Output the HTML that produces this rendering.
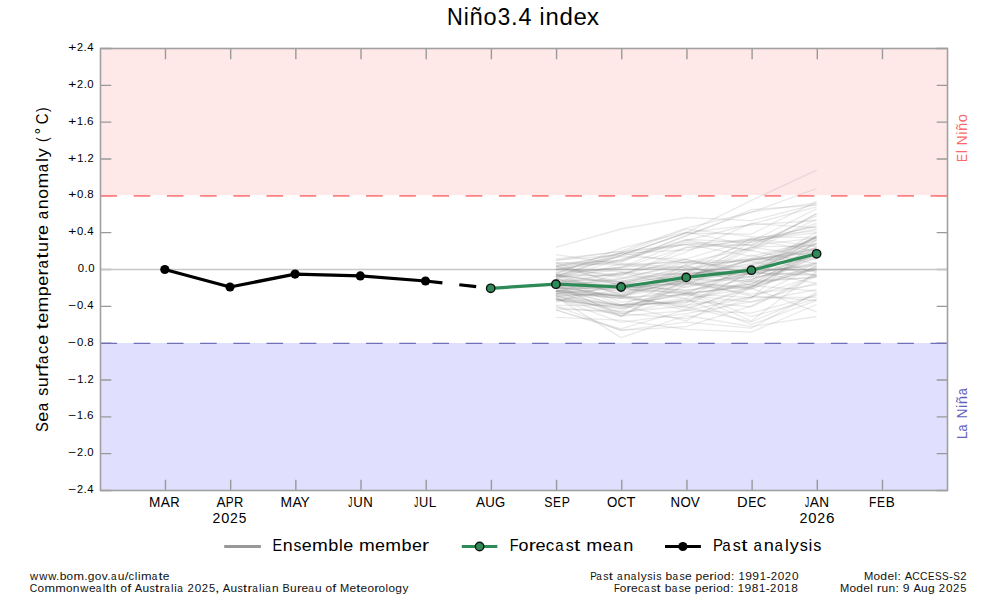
<!DOCTYPE html><html><head><meta charset="utf-8"><style>html,body{margin:0;padding:0;background:#fff;}svg{display:block;}text{font-family:"Liberation Sans",sans-serif;}</style></head><body>
<svg width="997" height="598" viewBox="0 0 997 598">
<rect x="0" y="0" width="997" height="598" fill="#ffffff"/>
<rect x="100.5" y="48.5" width="847.0" height="146.5" fill="#ffe8e8"/>
<rect x="100.5" y="343.0" width="847.0" height="147.5" fill="#e0e0fe"/>
<path d="M165.49 48.5V59.3M165.49 490.5V479.7M230.67 48.5V59.3M230.67 490.5V479.7M295.85 48.5V59.3M295.85 490.5V479.7M361.03 48.5V59.3M361.03 490.5V479.7M426.21 48.5V59.3M426.21 490.5V479.7M491.39 48.5V59.3M491.39 490.5V479.7M556.57 48.5V59.3M556.57 490.5V479.7M621.75 48.5V59.3M621.75 490.5V479.7M686.93 48.5V59.3M686.93 490.5V479.7M752.11 48.5V59.3M752.11 490.5V479.7M817.29 48.5V59.3M817.29 490.5V479.7M882.47 48.5V59.3M882.47 490.5V479.7M100.5 48.50H111.3M947.5 48.50H936.7M100.5 85.33H111.3M947.5 85.33H936.7M100.5 122.17H111.3M947.5 122.17H936.7M100.5 159.00H111.3M947.5 159.00H936.7M100.5 195.83H111.3M947.5 195.83H936.7M100.5 232.67H111.3M947.5 232.67H936.7M100.5 269.50H111.3M947.5 269.50H936.7M100.5 306.33H111.3M947.5 306.33H936.7M100.5 343.17H111.3M947.5 343.17H936.7M100.5 380.00H111.3M947.5 380.00H936.7M100.5 416.83H111.3M947.5 416.83H936.7M100.5 453.67H111.3M947.5 453.67H936.7M100.5 490.50H111.3M947.5 490.50H936.7" stroke="#999999" stroke-width="1.4" fill="none"/>
<line x1="100.5" y1="195.8" x2="947.5" y2="195.8" stroke="#ff8080" stroke-width="1.8" stroke-dasharray="16.6 16.6"/>
<line x1="100.5" y1="343.4" x2="947.5" y2="343.4" stroke="#7070b8" stroke-width="1.4" stroke-dasharray="16.6 16.6"/>
<line x1="100.5" y1="269.5" x2="947.5" y2="269.5" stroke="#c8c8c8" stroke-width="1.3"/>
<g fill="none" stroke="#808080" stroke-opacity="0.17" stroke-width="1.3" stroke-linejoin="round">
<polyline points="555.9,260.2 621.1,255.0 686.2,233.2 751.4,234.2 816.6,201.4"/>
<polyline points="555.9,288.1 621.1,289.1 686.2,292.6 751.4,272.3 816.6,264.6"/>
<polyline points="555.9,290.8 621.1,284.7 686.2,284.1 751.4,276.6 816.6,254.8"/>
<polyline points="555.9,310.0 621.1,330.3 686.2,326.6 751.4,305.9 816.6,274.2"/>
<polyline points="555.9,284.3 621.1,272.6 686.2,287.5 751.4,272.3 816.6,235.5"/>
<polyline points="555.9,288.6 621.1,287.5 686.2,298.9 751.4,288.0 816.6,251.6"/>
<polyline points="555.9,291.5 621.1,285.5 686.2,280.8 751.4,271.7 816.6,265.8"/>
<polyline points="555.9,279.9 621.1,280.9 686.2,272.7 751.4,238.4 816.6,246.2"/>
<polyline points="555.9,278.4 621.1,302.2 686.2,293.3 751.4,285.9 816.6,269.1"/>
<polyline points="555.9,298.8 621.1,315.7 686.2,278.7 751.4,247.2 816.6,256.9"/>
<polyline points="555.9,296.3 621.1,292.6 686.2,283.0 751.4,287.4 816.6,249.9"/>
<polyline points="555.9,290.7 621.1,295.7 686.2,278.7 751.4,260.0 816.6,249.5"/>
<polyline points="555.9,274.7 621.1,275.8 686.2,247.6 751.4,240.4 816.6,232.7"/>
<polyline points="555.9,276.5 621.1,253.2 686.2,229.1 751.4,236.7 816.6,237.6"/>
<polyline points="555.9,302.1 621.1,281.4 686.2,292.9 751.4,321.0 816.6,271.6"/>
<polyline points="555.9,299.5 621.1,308.4 686.2,297.8 751.4,264.6 816.6,243.2"/>
<polyline points="555.9,274.1 621.1,248.1 686.2,232.2 751.4,245.6 816.6,237.8"/>
<polyline points="555.9,262.6 621.1,286.2 686.2,293.8 751.4,297.7 816.6,265.8"/>
<polyline points="555.9,284.6 621.1,316.0 686.2,310.6 751.4,297.0 816.6,275.5"/>
<polyline points="555.9,293.5 621.1,288.2 686.2,294.3 751.4,283.6 816.6,254.4"/>
<polyline points="555.9,269.2 621.1,271.4 686.2,282.4 751.4,269.7 816.6,232.1"/>
<polyline points="555.9,288.4 621.1,285.4 686.2,290.1 751.4,284.2 816.6,267.6"/>
<polyline points="555.9,274.2 621.1,267.5 686.2,259.6 751.4,275.0 816.6,248.4"/>
<polyline points="555.9,263.0 621.1,260.8 686.2,240.5 751.4,224.0 816.6,206.8"/>
<polyline points="555.9,275.6 621.1,267.0 686.2,241.8 751.4,250.6 816.6,219.0"/>
<polyline points="555.9,283.2 621.1,284.2 686.2,274.5 751.4,263.5 816.6,237.7"/>
<polyline points="555.9,274.2 621.1,295.2 686.2,308.2 751.4,288.6 816.6,266.8"/>
<polyline points="555.9,293.0 621.1,296.3 686.2,284.5 751.4,258.7 816.6,252.1"/>
<polyline points="555.9,286.6 621.1,288.3 686.2,282.1 751.4,276.6 816.6,253.0"/>
<polyline points="555.9,292.0 621.1,273.1 686.2,261.6 751.4,259.7 816.6,258.9"/>
<polyline points="555.9,287.0 621.1,306.6 686.2,293.2 751.4,286.8 816.6,256.1"/>
<polyline points="555.9,290.8 621.1,296.2 686.2,306.8 751.4,322.0 816.6,294.1"/>
<polyline points="555.9,286.7 621.1,296.7 686.2,278.8 751.4,281.3 816.6,253.2"/>
<polyline points="555.9,289.4 621.1,296.3 686.2,310.4 751.4,313.1 816.6,295.3"/>
<polyline points="555.9,283.0 621.1,263.5 686.2,267.7 751.4,277.2 816.6,269.8"/>
<polyline points="555.9,283.3 621.1,281.3 686.2,268.4 751.4,258.9 816.6,256.3"/>
<polyline points="555.9,280.1 621.1,288.6 686.2,273.4 751.4,270.2 816.6,235.7"/>
<polyline points="555.9,265.0 621.1,260.2 686.2,236.1 751.4,209.7 816.6,205.2"/>
<polyline points="555.9,305.4 621.1,305.2 686.2,320.9 751.4,286.7 816.6,269.2"/>
<polyline points="555.9,266.4 621.1,277.7 686.2,265.2 751.4,285.5 816.6,291.2"/>
<polyline points="555.9,287.4 621.1,295.5 686.2,274.3 751.4,264.8 816.6,248.4"/>
<polyline points="555.9,301.1 621.1,289.0 686.2,282.4 751.4,288.1 816.6,311.9"/>
<polyline points="555.9,286.5 621.1,279.1 686.2,262.5 751.4,248.1 816.6,213.6"/>
<polyline points="555.9,282.9 621.1,286.6 686.2,290.5 751.4,278.8 816.6,262.8"/>
<polyline points="555.9,269.6 621.1,274.8 686.2,259.0 751.4,239.6 816.6,226.4"/>
<polyline points="555.9,298.7 621.1,308.9 686.2,286.4 751.4,272.9 816.6,275.5"/>
<polyline points="555.9,281.2 621.1,304.7 686.2,302.8 751.4,281.0 816.6,277.3"/>
<polyline points="555.9,282.6 621.1,272.7 686.2,274.4 751.4,270.9 816.6,243.7"/>
<polyline points="555.9,307.3 621.1,313.5 686.2,299.2 751.4,324.7 816.6,300.3"/>
<polyline points="555.9,300.4 621.1,307.2 686.2,300.5 751.4,306.8 816.6,276.0"/>
<polyline points="555.9,276.0 621.1,294.4 686.2,268.8 751.4,273.9 816.6,236.3"/>
<polyline points="555.9,274.7 621.1,284.7 686.2,272.7 751.4,272.2 816.6,243.9"/>
<polyline points="555.9,269.3 621.1,261.0 686.2,240.0 751.4,250.5 816.6,263.9"/>
<polyline points="555.9,276.9 621.1,274.5 686.2,252.1 751.4,223.3 816.6,227.9"/>
<polyline points="555.9,278.8 621.1,287.2 686.2,276.1 751.4,270.5 816.6,269.2"/>
<polyline points="555.9,282.5 621.1,278.5 686.2,272.8 751.4,246.6 816.6,246.1"/>
<polyline points="555.9,267.6 621.1,253.0 686.2,263.1 751.4,261.4 816.6,275.7"/>
<polyline points="555.9,295.7 621.1,312.0 686.2,306.0 751.4,271.1 816.6,283.3"/>
<polyline points="555.9,286.1 621.1,297.4 686.2,294.9 751.4,302.1 816.6,289.5"/>
<polyline points="555.9,278.9 621.1,292.4 686.2,276.4 751.4,259.8 816.6,252.3"/>
<polyline points="555.9,305.8 621.1,330.3 686.2,322.1 751.4,328.2 816.6,292.4"/>
<polyline points="555.9,266.2 621.1,253.1 686.2,250.0 751.4,238.5 816.6,230.7"/>
<polyline points="555.9,295.0 621.1,295.0 686.2,280.3 751.4,249.2 816.6,213.6"/>
<polyline points="555.9,285.2 621.1,284.3 686.2,281.1 751.4,296.0 816.6,300.5"/>
<polyline points="555.9,254.6 621.1,264.5 686.2,262.0 751.4,268.1 816.6,271.0"/>
<polyline points="555.9,295.5 621.1,316.8 686.2,280.7 751.4,268.8 816.6,247.2"/>
<polyline points="555.9,291.4 621.1,298.1 686.2,264.4 751.4,260.4 816.6,248.0"/>
<polyline points="555.9,262.8 621.1,265.0 686.2,270.1 751.4,282.4 816.6,276.8"/>
<polyline points="555.9,299.0 621.1,305.5 686.2,293.3 751.4,266.9 816.6,237.9"/>
<polyline points="555.9,290.1 621.1,304.9 686.2,295.1 751.4,284.3 816.6,247.7"/>
<polyline points="555.9,277.1 621.1,269.4 686.2,266.9 751.4,241.4 816.6,208.9"/>
<polyline points="555.9,277.9 621.1,255.0 686.2,232.6 751.4,224.9 816.6,220.5"/>
<polyline points="555.9,276.1 621.1,255.9 686.2,244.3 751.4,256.3 816.6,240.7"/>
<polyline points="555.9,279.1 621.1,259.1 686.2,239.3 751.4,242.3 816.6,225.6"/>
<polyline points="555.9,265.8 621.1,262.3 686.2,235.1 751.4,211.8 816.6,203.0"/>
<polyline points="555.9,270.3 621.1,256.7 686.2,259.4 751.4,273.1 816.6,239.4"/>
<polyline points="555.9,276.0 621.1,282.0 686.2,275.3 751.4,274.1 816.6,262.6"/>
<polyline points="555.9,293.5 621.1,287.5 686.2,276.5 751.4,260.0 816.6,238.1"/>
<polyline points="555.9,294.0 621.1,305.7 686.2,277.7 751.4,255.0 816.6,272.3"/>
<polyline points="555.9,310.0 621.1,328.8 686.2,309.6 751.4,286.1 816.6,254.1"/>
<polyline points="555.9,274.8 621.1,283.9 686.2,266.1 751.4,280.3 816.6,236.2"/>
<polyline points="555.9,309.2 621.1,311.1 686.2,280.0 751.4,241.7 816.6,228.9"/>
<polyline points="555.9,272.1 621.1,268.0 686.2,247.3 751.4,244.9 816.6,215.8"/>
<polyline points="555.9,258.9 621.1,251.7 686.2,244.2 751.4,239.5 816.6,251.4"/>
<polyline points="555.9,298.7 621.1,322.3 686.2,313.6 751.4,301.6 816.6,283.1"/>
<polyline points="555.9,293.6 621.1,298.1 686.2,305.1 751.4,297.3 816.6,297.4"/>
<polyline points="555.9,290.7 621.1,315.8 686.2,284.1 751.4,289.1 816.6,263.1"/>
<polyline points="555.9,272.8 621.1,252.6 686.2,244.7 751.4,244.9 816.6,223.4"/>
<polyline points="555.9,296.0 621.1,305.0 686.2,302.4 751.4,272.7 816.6,274.5"/>
<polyline points="555.9,286.0 621.1,287.3 686.2,283.5 751.4,294.2 816.6,284.6"/>
<polyline points="555.9,291.4 621.1,298.5 686.2,291.2 751.4,316.5 816.6,299.1"/>
<polyline points="555.9,287.6 621.1,313.7 686.2,318.5 751.4,298.2 816.6,239.4"/>
<polyline points="555.9,266.5 621.1,282.9 686.2,270.3 751.4,258.2 816.6,243.2"/>
<polyline points="555.9,297.4 621.1,305.4 686.2,300.8 751.4,279.7 816.6,258.2"/>
<polyline points="555.9,269.5 621.1,255.7 686.2,232.7 751.4,200.4 816.6,170.1"/>
<polyline points="555.9,260.3 621.1,251.1 686.2,228.1 751.4,212.4 816.6,188.5"/>
<polyline points="555.9,297.1 621.1,337.6 686.2,315.5 751.4,326.6 816.6,316.5"/>
<polyline points="555.9,317.4 621.1,320.1 686.2,329.4 751.4,332.1 816.6,304.5"/>
<polyline points="555.9,247.4 621.1,229.0 686.2,217.5 751.4,220.7 816.6,204.1"/>
</g>
<rect x="100.5" y="48.5" width="847.0" height="442.0" fill="none" stroke="#a0a0a0" stroke-width="1.6"/>
<polyline points="164.8,269.5 230.0,287.0 295.1,274.1 360.3,275.9 425.5,281.0" fill="none" stroke="#000" stroke-width="3.2" stroke-linejoin="round"/>
<line x1="425.5" y1="281.0" x2="490.7" y2="288.3" stroke="#000" stroke-width="3.2" stroke-dasharray="17 17"/>
<circle cx="164.8" cy="269.5" r="4.6" fill="#000"/>
<circle cx="230.0" cy="287.0" r="4.6" fill="#000"/>
<circle cx="295.1" cy="274.1" r="4.6" fill="#000"/>
<circle cx="360.3" cy="275.9" r="4.6" fill="#000"/>
<circle cx="425.5" cy="281.0" r="4.6" fill="#000"/>
<polyline points="490.7,288.3 555.9,284.2 621.1,287.0 686.2,277.4 751.4,270.2 816.6,253.8" fill="none" stroke="#2e8b57" stroke-width="3.2" stroke-linejoin="round"/>
<circle cx="490.7" cy="288.3" r="4.2" fill="#2e8b57" stroke="#111" stroke-width="1.4"/>
<circle cx="555.9" cy="284.2" r="4.2" fill="#2e8b57" stroke="#111" stroke-width="1.4"/>
<circle cx="621.1" cy="287.0" r="4.2" fill="#2e8b57" stroke="#111" stroke-width="1.4"/>
<circle cx="686.2" cy="277.4" r="4.2" fill="#2e8b57" stroke="#111" stroke-width="1.4"/>
<circle cx="751.4" cy="270.2" r="4.2" fill="#2e8b57" stroke="#111" stroke-width="1.4"/>
<circle cx="816.6" cy="253.8" r="4.2" fill="#2e8b57" stroke="#111" stroke-width="1.4"/>
<line x1="224.2" y1="546.5" x2="260.9" y2="546.5" stroke="#999999" stroke-width="3"/>
<line x1="461.8" y1="546.5" x2="497.3" y2="546.5" stroke="#2e8b57" stroke-width="3.2"/>
<circle cx="479.6" cy="546.5" r="4.2" fill="#2e8b57" stroke="#111" stroke-width="1.4"/>
<line x1="665" y1="546.5" x2="700.9" y2="546.5" stroke="#000" stroke-width="3.2"/>
<circle cx="682.9" cy="546.5" r="4.6" fill="#000"/>
<text id="title" transform="translate(448.70 25.00)" y="0" font-size="24.56" fill="#000000"><tspan x="-1.79" textLength="15.79" lengthAdjust="spacingAndGlyphs">N</tspan><tspan x="14.96" textLength="5.03" lengthAdjust="spacingAndGlyphs">i</tspan><tspan x="20.92" textLength="13.27" lengthAdjust="spacingAndGlyphs">ñ</tspan><tspan x="34.80" textLength="13.09" lengthAdjust="spacingAndGlyphs">o</tspan><tspan x="48.95" textLength="12.46" lengthAdjust="spacingAndGlyphs">3</tspan><tspan x="62.38" textLength="6.66" lengthAdjust="spacingAndGlyphs">.</tspan><tspan x="69.78" textLength="12.98" lengthAdjust="spacingAndGlyphs">4</tspan><tspan x="83.32"> </tspan><tspan x="90.93" textLength="5.03" lengthAdjust="spacingAndGlyphs">i</tspan><tspan x="96.93" textLength="13.27" lengthAdjust="spacingAndGlyphs">n</tspan><tspan x="110.75" textLength="13.38" lengthAdjust="spacingAndGlyphs">d</tspan><tspan x="124.80" textLength="13.30" lengthAdjust="spacingAndGlyphs">e</tspan><tspan x="138.18" textLength="12.28" lengthAdjust="spacingAndGlyphs">x</tspan></text>
<text id="ylabel" transform="translate(47.90 431.40) rotate(-90)" y="0" font-size="16.86" fill="#000000"><tspan x="-0.67" textLength="9.89" lengthAdjust="spacingAndGlyphs">S</tspan><tspan x="9.61" textLength="9.99" lengthAdjust="spacingAndGlyphs">e</tspan><tspan x="20.05" textLength="8.32" lengthAdjust="spacingAndGlyphs">a</tspan><tspan x="29.88"> </tspan><tspan x="35.62" textLength="7.97" lengthAdjust="spacingAndGlyphs">s</tspan><tspan x="44.08" textLength="9.97" lengthAdjust="spacingAndGlyphs">u</tspan><tspan x="54.46" textLength="7.09" lengthAdjust="spacingAndGlyphs">r</tspan><tspan x="61.28" textLength="6.07" lengthAdjust="spacingAndGlyphs">f</tspan><tspan x="67.42" textLength="8.32" lengthAdjust="spacingAndGlyphs">a</tspan><tspan x="77.46" textLength="8.34" lengthAdjust="spacingAndGlyphs">c</tspan><tspan x="86.54" textLength="9.99" lengthAdjust="spacingAndGlyphs">e</tspan><tspan x="96.62"> </tspan><tspan x="102.01" textLength="6.17" lengthAdjust="spacingAndGlyphs">t</tspan><tspan x="108.58" textLength="9.99" lengthAdjust="spacingAndGlyphs">e</tspan><tspan x="118.91" textLength="15.78" lengthAdjust="spacingAndGlyphs">m</tspan><tspan x="135.20" textLength="10.06" lengthAdjust="spacingAndGlyphs">p</tspan><tspan x="145.56" textLength="9.99" lengthAdjust="spacingAndGlyphs">e</tspan><tspan x="155.73" textLength="7.09" lengthAdjust="spacingAndGlyphs">r</tspan><tspan x="162.84" textLength="8.32" lengthAdjust="spacingAndGlyphs">a</tspan><tspan x="172.77" textLength="6.17" lengthAdjust="spacingAndGlyphs">t</tspan><tspan x="179.43" textLength="9.97" lengthAdjust="spacingAndGlyphs">u</tspan><tspan x="189.82" textLength="7.09" lengthAdjust="spacingAndGlyphs">r</tspan><tspan x="196.35" textLength="9.99" lengthAdjust="spacingAndGlyphs">e</tspan><tspan x="206.42"> </tspan><tspan x="212.07" textLength="8.32" lengthAdjust="spacingAndGlyphs">a</tspan><tspan x="222.22" textLength="9.97" lengthAdjust="spacingAndGlyphs">n</tspan><tspan x="232.61" textLength="9.83" lengthAdjust="spacingAndGlyphs">o</tspan><tspan x="242.86" textLength="15.78" lengthAdjust="spacingAndGlyphs">m</tspan><tspan x="259.17" textLength="8.32" lengthAdjust="spacingAndGlyphs">a</tspan><tspan x="269.42" textLength="3.78" lengthAdjust="spacingAndGlyphs">l</tspan><tspan x="274.07" textLength="8.93" lengthAdjust="spacingAndGlyphs">y</tspan><tspan x="283.46"> </tspan><tspan x="289.30" textLength="4.68" lengthAdjust="spacingAndGlyphs">(</tspan></text>
<text id="ydeg" transform="translate(47.14 133.40) rotate(-90)" y="0" font-size="15.84" fill="#000000"><tspan x="-1.00" textLength="6.71" lengthAdjust="spacingAndGlyphs">°</tspan></text>
<text id="ylabel2" transform="translate(47.90 123.40) rotate(-90)" y="0" font-size="16.86" fill="#000000"><tspan x="-0.76" textLength="10.77" lengthAdjust="spacingAndGlyphs">C</tspan><tspan x="11.52" textLength="4.52" lengthAdjust="spacingAndGlyphs">)</tspan></text>
<text id="elnino" transform="translate(966.80 161.00) rotate(-90)" y="0" font-size="14.10" fill="#fa6a6a"><tspan x="-0.98" textLength="7.98" lengthAdjust="spacingAndGlyphs">E</tspan><tspan x="7.72" textLength="3.14" lengthAdjust="spacingAndGlyphs">l</tspan><tspan x="11.20"> </tspan><tspan x="15.83" textLength="9.85" lengthAdjust="spacingAndGlyphs">N</tspan><tspan x="26.28" textLength="3.14" lengthAdjust="spacingAndGlyphs">i</tspan><tspan x="29.99" textLength="8.28" lengthAdjust="spacingAndGlyphs">ñ</tspan><tspan x="38.65" textLength="8.16" lengthAdjust="spacingAndGlyphs">o</tspan></text>
<text id="lanina" transform="translate(966.80 438.20) rotate(-90)" y="0" font-size="14.10" fill="#6262c0"><tspan x="-1.18" textLength="8.01" lengthAdjust="spacingAndGlyphs">L</tspan><tspan x="6.73" textLength="7.00" lengthAdjust="spacingAndGlyphs">a</tspan><tspan x="15.01"> </tspan><tspan x="19.70" textLength="9.99" lengthAdjust="spacingAndGlyphs">N</tspan><tspan x="30.29" textLength="3.18" lengthAdjust="spacingAndGlyphs">i</tspan><tspan x="34.06" textLength="8.40" lengthAdjust="spacingAndGlyphs">ñ</tspan><tspan x="43.00" textLength="7.00" lengthAdjust="spacingAndGlyphs">a</tspan></text>
<text id="y0" transform="translate(68.80 51.00)" y="0" font-size="11.63" fill="#000000"><tspan x="-0.67" textLength="8.07" lengthAdjust="spacingAndGlyphs">+</tspan><tspan x="8.09" textLength="6.06" lengthAdjust="spacingAndGlyphs">2</tspan><tspan x="14.76" textLength="3.22" lengthAdjust="spacingAndGlyphs">.</tspan><tspan x="18.34" textLength="6.29" lengthAdjust="spacingAndGlyphs">4</tspan></text>
<text id="y1" transform="translate(68.80 87.83)" y="0" font-size="11.63" fill="#000000"><tspan x="-0.68" textLength="8.11" lengthAdjust="spacingAndGlyphs">+</tspan><tspan x="8.12" textLength="6.09" lengthAdjust="spacingAndGlyphs">2</tspan><tspan x="14.83" textLength="3.24" lengthAdjust="spacingAndGlyphs">.</tspan><tspan x="18.43" textLength="6.32" lengthAdjust="spacingAndGlyphs">0</tspan></text>
<text id="y2" transform="translate(68.80 124.67)" y="0" font-size="11.63" fill="#000000"><tspan x="-0.68" textLength="8.09" lengthAdjust="spacingAndGlyphs">+</tspan><tspan x="8.23" textLength="6.02" lengthAdjust="spacingAndGlyphs">1</tspan><tspan x="14.80" textLength="3.23" lengthAdjust="spacingAndGlyphs">.</tspan><tspan x="18.29" textLength="6.53" lengthAdjust="spacingAndGlyphs">6</tspan></text>
<text id="y3" transform="translate(68.80 161.50)" y="0" font-size="11.63" fill="#000000"><tspan x="-0.69" textLength="8.23" lengthAdjust="spacingAndGlyphs">+</tspan><tspan x="8.37" textLength="6.12" lengthAdjust="spacingAndGlyphs">1</tspan><tspan x="15.05" textLength="3.29" lengthAdjust="spacingAndGlyphs">.</tspan><tspan x="18.68" textLength="6.18" lengthAdjust="spacingAndGlyphs">2</tspan></text>
<text id="y4" transform="translate(68.80 198.33)" y="0" font-size="11.63" fill="#000000"><tspan x="-0.68" textLength="8.11" lengthAdjust="spacingAndGlyphs">+</tspan><tspan x="8.16" textLength="6.32" lengthAdjust="spacingAndGlyphs">0</tspan><tspan x="14.84" textLength="3.24" lengthAdjust="spacingAndGlyphs">.</tspan><tspan x="18.41" textLength="6.39" lengthAdjust="spacingAndGlyphs">8</tspan></text>
<text id="y5" transform="translate(68.80 235.17)" y="0" font-size="11.63" fill="#000000"><tspan x="-0.67" textLength="8.07" lengthAdjust="spacingAndGlyphs">+</tspan><tspan x="8.11" textLength="6.29" lengthAdjust="spacingAndGlyphs">0</tspan><tspan x="14.76" textLength="3.22" lengthAdjust="spacingAndGlyphs">.</tspan><tspan x="18.34" textLength="6.29" lengthAdjust="spacingAndGlyphs">4</tspan></text>
<text id="y6" transform="translate(78.30 272.00)" y="0" font-size="11.63" fill="#000000"><tspan x="-0.44" textLength="6.31" lengthAdjust="spacingAndGlyphs">0</tspan><tspan x="6.23" textLength="3.24" lengthAdjust="spacingAndGlyphs">.</tspan><tspan x="9.83" textLength="6.31" lengthAdjust="spacingAndGlyphs">0</tspan></text>
<text id="y7" transform="translate(68.80 308.83)" y="0" font-size="11.63" fill="#000000"><tspan x="-0.68" textLength="8.07" lengthAdjust="spacingAndGlyphs">−</tspan><tspan x="8.11" textLength="6.29" lengthAdjust="spacingAndGlyphs">0</tspan><tspan x="14.76" textLength="3.22" lengthAdjust="spacingAndGlyphs">.</tspan><tspan x="18.34" textLength="6.29" lengthAdjust="spacingAndGlyphs">4</tspan></text>
<text id="y8" transform="translate(68.80 345.67)" y="0" font-size="11.63" fill="#000000"><tspan x="-0.69" textLength="8.11" lengthAdjust="spacingAndGlyphs">−</tspan><tspan x="8.16" textLength="6.32" lengthAdjust="spacingAndGlyphs">0</tspan><tspan x="14.84" textLength="3.24" lengthAdjust="spacingAndGlyphs">.</tspan><tspan x="18.41" textLength="6.39" lengthAdjust="spacingAndGlyphs">8</tspan></text>
<text id="y9" transform="translate(68.80 382.50)" y="0" font-size="11.63" fill="#000000"><tspan x="-0.69" textLength="8.23" lengthAdjust="spacingAndGlyphs">−</tspan><tspan x="8.37" textLength="6.12" lengthAdjust="spacingAndGlyphs">1</tspan><tspan x="15.05" textLength="3.29" lengthAdjust="spacingAndGlyphs">.</tspan><tspan x="18.68" textLength="6.18" lengthAdjust="spacingAndGlyphs">2</tspan></text>
<text id="y10" transform="translate(68.80 419.33)" y="0" font-size="11.63" fill="#000000"><tspan x="-0.68" textLength="8.09" lengthAdjust="spacingAndGlyphs">−</tspan><tspan x="8.23" textLength="6.02" lengthAdjust="spacingAndGlyphs">1</tspan><tspan x="14.80" textLength="3.23" lengthAdjust="spacingAndGlyphs">.</tspan><tspan x="18.29" textLength="6.53" lengthAdjust="spacingAndGlyphs">6</tspan></text>
<text id="y11" transform="translate(68.80 456.17)" y="0" font-size="11.63" fill="#000000"><tspan x="-0.68" textLength="8.11" lengthAdjust="spacingAndGlyphs">−</tspan><tspan x="8.12" textLength="6.09" lengthAdjust="spacingAndGlyphs">2</tspan><tspan x="14.83" textLength="3.24" lengthAdjust="spacingAndGlyphs">.</tspan><tspan x="18.43" textLength="6.32" lengthAdjust="spacingAndGlyphs">0</tspan></text>
<text id="y12" transform="translate(68.80 493.00)" y="0" font-size="11.63" fill="#000000"><tspan x="-0.68" textLength="8.07" lengthAdjust="spacingAndGlyphs">−</tspan><tspan x="8.09" textLength="6.06" lengthAdjust="spacingAndGlyphs">2</tspan><tspan x="14.76" textLength="3.22" lengthAdjust="spacingAndGlyphs">.</tspan><tspan x="18.34" textLength="6.29" lengthAdjust="spacingAndGlyphs">4</tspan></text>
<text id="xMAR" transform="translate(150.20 506.80)" y="0" font-size="13.81" fill="#000000"><tspan x="-1.12" textLength="11.35" lengthAdjust="spacingAndGlyphs">M</tspan><tspan x="10.53" textLength="9.18" lengthAdjust="spacingAndGlyphs">A</tspan><tspan x="20.07" textLength="9.44" lengthAdjust="spacingAndGlyphs">R</tspan></text>
<text id="xAPR" transform="translate(216.40 506.80)" y="0" font-size="13.81" fill="#000000"><tspan x="-0.03" textLength="9.05" lengthAdjust="spacingAndGlyphs">A</tspan><tspan x="9.45" textLength="7.94" lengthAdjust="spacingAndGlyphs">P</tspan><tspan x="17.50" textLength="9.30" lengthAdjust="spacingAndGlyphs">R</tspan></text>
<text id="xMAY" transform="translate(281.70 506.80)" y="0" font-size="13.81" fill="#000000"><tspan x="-1.14" textLength="11.60" lengthAdjust="spacingAndGlyphs">M</tspan><tspan x="10.76" textLength="9.38" lengthAdjust="spacingAndGlyphs">A</tspan><tspan x="18.81" textLength="9.19" lengthAdjust="spacingAndGlyphs">Y</tspan></text>
<text id="xJUN" transform="translate(348.50 506.80)" y="0" font-size="13.81" fill="#000000"><tspan x="-0.13" textLength="4.05" lengthAdjust="spacingAndGlyphs">J</tspan><tspan x="4.78" textLength="9.49" lengthAdjust="spacingAndGlyphs">U</tspan><tspan x="14.64" textLength="9.53" lengthAdjust="spacingAndGlyphs">N</tspan></text>
<text id="xJUL" transform="translate(414.40 506.80)" y="0" font-size="13.81" fill="#000000"><tspan x="-0.12" textLength="3.96" lengthAdjust="spacingAndGlyphs">J</tspan><tspan x="4.67" textLength="9.27" lengthAdjust="spacingAndGlyphs">U</tspan><tspan x="14.27" textLength="7.48" lengthAdjust="spacingAndGlyphs">L</tspan></text>
<text id="xAUG" transform="translate(475.90 506.80)" y="0" font-size="13.81" fill="#000000"><tspan x="-0.03" textLength="9.05" lengthAdjust="spacingAndGlyphs">A</tspan><tspan x="9.26" textLength="9.56" lengthAdjust="spacingAndGlyphs">U</tspan><tspan x="19.06" textLength="10.22" lengthAdjust="spacingAndGlyphs">G</tspan></text>
<text id="xSEP" transform="translate(544.80 506.80)" y="0" font-size="13.81" fill="#000000"><tspan x="-0.56" textLength="8.20" lengthAdjust="spacingAndGlyphs">S</tspan><tspan x="8.22" textLength="7.97" lengthAdjust="spacingAndGlyphs">E</tspan><tspan x="16.91" textLength="8.13" lengthAdjust="spacingAndGlyphs">P</tspan></text>
<text id="xOCT" transform="translate(607.70 506.80)" y="0" font-size="13.81" fill="#000000"><tspan x="-0.63" textLength="10.31" lengthAdjust="spacingAndGlyphs">O</tspan><tspan x="9.92" textLength="8.99" lengthAdjust="spacingAndGlyphs">C</tspan><tspan x="18.80" textLength="8.94" lengthAdjust="spacingAndGlyphs">T</tspan></text>
<text id="xNOV" transform="translate(671.60 506.80)" y="0" font-size="13.81" fill="#000000"><tspan x="-1.09" textLength="9.57" lengthAdjust="spacingAndGlyphs">N</tspan><tspan x="8.84" textLength="10.31" lengthAdjust="spacingAndGlyphs">O</tspan><tspan x="19.08" textLength="9.08" lengthAdjust="spacingAndGlyphs">V</tspan></text>
<text id="xDEC" transform="translate(738.20 506.80)" y="0" font-size="13.81" fill="#000000"><tspan x="-1.21" textLength="10.63" lengthAdjust="spacingAndGlyphs">D</tspan><tspan x="9.94" textLength="8.22" lengthAdjust="spacingAndGlyphs">E</tspan><tspan x="18.67" textLength="9.53" lengthAdjust="spacingAndGlyphs">C</tspan></text>
<text id="xJAN" transform="translate(805.20 506.80)" y="0" font-size="13.81" fill="#000000"><tspan x="-0.13" textLength="4.15" lengthAdjust="spacingAndGlyphs">J</tspan><tspan x="4.59" textLength="9.21" lengthAdjust="spacingAndGlyphs">A</tspan><tspan x="14.12" textLength="9.78" lengthAdjust="spacingAndGlyphs">N</tspan></text>
<text id="xFEB" transform="translate(870.00 506.80)" y="0" font-size="13.81" fill="#000000"><tspan x="-0.98" textLength="7.29" lengthAdjust="spacingAndGlyphs">F</tspan><tspan x="7.02" textLength="8.05" lengthAdjust="spacingAndGlyphs">E</tspan><tspan x="15.69" textLength="9.02" lengthAdjust="spacingAndGlyphs">B</tspan></text>
<text id="y2025" transform="translate(213.10 523.00)" y="0" font-size="14.39" fill="#000000"><tspan x="-0.70" textLength="7.77" lengthAdjust="spacingAndGlyphs">2</tspan><tspan x="8.09" textLength="8.07" lengthAdjust="spacingAndGlyphs">0</tspan><tspan x="16.80" textLength="7.77" lengthAdjust="spacingAndGlyphs">2</tspan><tspan x="25.76" textLength="7.61" lengthAdjust="spacingAndGlyphs">5</tspan></text>
<text id="y2026" transform="translate(800.10 523.00)" y="0" font-size="14.39" fill="#000000"><tspan x="-0.71" textLength="7.91" lengthAdjust="spacingAndGlyphs">2</tspan><tspan x="8.22" textLength="8.20" lengthAdjust="spacingAndGlyphs">0</tspan><tspan x="17.09" textLength="7.91" lengthAdjust="spacingAndGlyphs">2</tspan><tspan x="25.88" textLength="8.49" lengthAdjust="spacingAndGlyphs">6</tspan></text>
<text id="leg1" transform="translate(273.60 550.85)" y="0" font-size="17.22" fill="#000000"><tspan x="-1.18" textLength="9.60" lengthAdjust="spacingAndGlyphs">E</tspan><tspan x="9.18" textLength="9.96" lengthAdjust="spacingAndGlyphs">n</tspan><tspan x="19.84" textLength="7.96" lengthAdjust="spacingAndGlyphs">s</tspan><tspan x="28.19" textLength="9.97" lengthAdjust="spacingAndGlyphs">e</tspan><tspan x="38.50" textLength="15.76" lengthAdjust="spacingAndGlyphs">m</tspan><tspan x="54.76" textLength="10.05" lengthAdjust="spacingAndGlyphs">b</tspan><tspan x="65.38" textLength="3.77" lengthAdjust="spacingAndGlyphs">l</tspan><tspan x="69.72" textLength="9.97" lengthAdjust="spacingAndGlyphs">e</tspan><tspan x="79.78"> </tspan><tspan x="85.31" textLength="15.76" lengthAdjust="spacingAndGlyphs">m</tspan><tspan x="101.39" textLength="9.97" lengthAdjust="spacingAndGlyphs">e</tspan><tspan x="111.70" textLength="15.76" lengthAdjust="spacingAndGlyphs">m</tspan><tspan x="127.97" textLength="10.05" lengthAdjust="spacingAndGlyphs">b</tspan><tspan x="138.31" textLength="9.97" lengthAdjust="spacingAndGlyphs">e</tspan><tspan x="148.47" textLength="7.08" lengthAdjust="spacingAndGlyphs">r</tspan></text>
<text id="leg2" transform="translate(511.00 550.85)" y="0" font-size="17.22" fill="#000000"><tspan x="-1.18" textLength="8.81" lengthAdjust="spacingAndGlyphs">F</tspan><tspan x="7.61" textLength="9.95" lengthAdjust="spacingAndGlyphs">o</tspan><tspan x="17.82" textLength="7.18" lengthAdjust="spacingAndGlyphs">r</tspan><tspan x="24.43" textLength="10.11" lengthAdjust="spacingAndGlyphs">e</tspan><tspan x="34.84" textLength="8.44" lengthAdjust="spacingAndGlyphs">c</tspan><tspan x="44.25" textLength="8.42" lengthAdjust="spacingAndGlyphs">a</tspan><tspan x="54.65" textLength="8.07" lengthAdjust="spacingAndGlyphs">s</tspan><tspan x="63.07" textLength="6.25" lengthAdjust="spacingAndGlyphs">t</tspan><tspan x="69.56"> </tspan><tspan x="75.16" textLength="15.97" lengthAdjust="spacingAndGlyphs">m</tspan><tspan x="91.45" textLength="10.11" lengthAdjust="spacingAndGlyphs">e</tspan><tspan x="102.02" textLength="8.42" lengthAdjust="spacingAndGlyphs">a</tspan><tspan x="112.29" textLength="10.09" lengthAdjust="spacingAndGlyphs">n</tspan></text>
<text id="leg3" transform="translate(714.20 550.85)" y="0" font-size="17.22" fill="#000000"><tspan x="-1.23" textLength="9.97" lengthAdjust="spacingAndGlyphs">P</tspan><tspan x="8.14" textLength="8.45" lengthAdjust="spacingAndGlyphs">a</tspan><tspan x="18.59" textLength="8.10" lengthAdjust="spacingAndGlyphs">s</tspan><tspan x="27.04" textLength="6.27" lengthAdjust="spacingAndGlyphs">t</tspan><tspan x="33.55"> </tspan><tspan x="39.29" textLength="8.45" lengthAdjust="spacingAndGlyphs">a</tspan><tspan x="49.60" textLength="10.13" lengthAdjust="spacingAndGlyphs">n</tspan><tspan x="60.35" textLength="8.45" lengthAdjust="spacingAndGlyphs">a</tspan><tspan x="70.76" textLength="3.84" lengthAdjust="spacingAndGlyphs">l</tspan><tspan x="75.49" textLength="9.07" lengthAdjust="spacingAndGlyphs">y</tspan><tspan x="85.49" textLength="8.10" lengthAdjust="spacingAndGlyphs">s</tspan><tspan x="94.27" textLength="3.84" lengthAdjust="spacingAndGlyphs">i</tspan><tspan x="98.99" textLength="8.10" lengthAdjust="spacingAndGlyphs">s</tspan></text>
<text id="f1" transform="translate(30.10 579.70)" y="0" font-size="11.34" fill="#111"><tspan x="0.02" textLength="8.12" lengthAdjust="spacingAndGlyphs">w</tspan><tspan x="9.12" textLength="8.12" lengthAdjust="spacingAndGlyphs">w</tspan><tspan x="18.21" textLength="8.12" lengthAdjust="spacingAndGlyphs">w</tspan><tspan x="25.90" textLength="3.34" lengthAdjust="spacingAndGlyphs">.</tspan><tspan x="29.58" textLength="6.73" lengthAdjust="spacingAndGlyphs">b</tspan><tspan x="36.52" textLength="6.58" lengthAdjust="spacingAndGlyphs">o</tspan><tspan x="43.38" textLength="10.56" lengthAdjust="spacingAndGlyphs">m</tspan><tspan x="54.14" textLength="3.34" lengthAdjust="spacingAndGlyphs">.</tspan><tspan x="57.69" textLength="6.72" lengthAdjust="spacingAndGlyphs">g</tspan><tspan x="64.77" textLength="6.58" lengthAdjust="spacingAndGlyphs">o</tspan><tspan x="71.75" textLength="6.00" lengthAdjust="spacingAndGlyphs">v</tspan><tspan x="77.27" textLength="3.34" lengthAdjust="spacingAndGlyphs">.</tspan><tspan x="80.96" textLength="5.56" lengthAdjust="spacingAndGlyphs">a</tspan><tspan x="87.70" textLength="6.67" lengthAdjust="spacingAndGlyphs">u</tspan><tspan x="94.58" textLength="3.75" lengthAdjust="spacingAndGlyphs">/</tspan><tspan x="98.47" textLength="5.58" lengthAdjust="spacingAndGlyphs">c</tspan><tspan x="104.73" textLength="2.53" lengthAdjust="spacingAndGlyphs">l</tspan><tspan x="107.83" textLength="2.53" lengthAdjust="spacingAndGlyphs">i</tspan><tspan x="110.80" textLength="10.56" lengthAdjust="spacingAndGlyphs">m</tspan><tspan x="121.71" textLength="5.56" lengthAdjust="spacingAndGlyphs">a</tspan><tspan x="128.36" textLength="4.13" lengthAdjust="spacingAndGlyphs">t</tspan><tspan x="132.75" textLength="6.68" lengthAdjust="spacingAndGlyphs">e</tspan></text>
<text id="f2" transform="translate(30.30 592.00)" y="0" font-size="11.34" fill="#111"><tspan x="-0.52" textLength="7.44" lengthAdjust="spacingAndGlyphs">C</tspan><tspan x="7.25" textLength="6.57" lengthAdjust="spacingAndGlyphs">o</tspan><tspan x="14.09" textLength="10.54" lengthAdjust="spacingAndGlyphs">m</tspan><tspan x="24.91" textLength="10.54" lengthAdjust="spacingAndGlyphs">m</tspan><tspan x="35.68" textLength="6.57" lengthAdjust="spacingAndGlyphs">o</tspan><tspan x="42.57" textLength="6.66" lengthAdjust="spacingAndGlyphs">n</tspan><tspan x="49.87" textLength="8.11" lengthAdjust="spacingAndGlyphs">w</tspan><tspan x="58.58" textLength="6.67" lengthAdjust="spacingAndGlyphs">e</tspan><tspan x="65.55" textLength="5.55" lengthAdjust="spacingAndGlyphs">a</tspan><tspan x="72.39" textLength="2.52" lengthAdjust="spacingAndGlyphs">l</tspan><tspan x="75.27" textLength="4.12" lengthAdjust="spacingAndGlyphs">t</tspan><tspan x="79.72" textLength="6.70" lengthAdjust="spacingAndGlyphs">h</tspan><tspan x="86.59"> </tspan><tspan x="90.23" textLength="6.57" lengthAdjust="spacingAndGlyphs">o</tspan><tspan x="96.96" textLength="4.05" lengthAdjust="spacingAndGlyphs">f</tspan><tspan x="100.82"> </tspan><tspan x="104.41" textLength="7.46" lengthAdjust="spacingAndGlyphs">A</tspan><tspan x="112.11" textLength="6.66" lengthAdjust="spacingAndGlyphs">u</tspan><tspan x="119.29" textLength="5.32" lengthAdjust="spacingAndGlyphs">s</tspan><tspan x="124.84" textLength="4.12" lengthAdjust="spacingAndGlyphs">t</tspan><tspan x="129.19" textLength="4.74" lengthAdjust="spacingAndGlyphs">r</tspan><tspan x="133.93" textLength="5.55" lengthAdjust="spacingAndGlyphs">a</tspan><tspan x="140.78" textLength="2.52" lengthAdjust="spacingAndGlyphs">l</tspan><tspan x="143.87" textLength="2.52" lengthAdjust="spacingAndGlyphs">i</tspan><tspan x="146.91" textLength="5.55" lengthAdjust="spacingAndGlyphs">a</tspan><tspan x="153.47"> </tspan><tspan x="157.25" textLength="6.28" lengthAdjust="spacingAndGlyphs">2</tspan><tspan x="164.34" textLength="6.51" lengthAdjust="spacingAndGlyphs">0</tspan><tspan x="171.38" textLength="6.28" lengthAdjust="spacingAndGlyphs">2</tspan><tspan x="178.61" textLength="6.14" lengthAdjust="spacingAndGlyphs">5</tspan><tspan x="184.66" textLength="4.50" lengthAdjust="spacingAndGlyphs">,</tspan><tspan x="188.79"> </tspan><tspan x="192.38" textLength="7.46" lengthAdjust="spacingAndGlyphs">A</tspan><tspan x="200.08" textLength="6.66" lengthAdjust="spacingAndGlyphs">u</tspan><tspan x="207.26" textLength="5.32" lengthAdjust="spacingAndGlyphs">s</tspan><tspan x="212.81" textLength="4.12" lengthAdjust="spacingAndGlyphs">t</tspan><tspan x="217.16" textLength="4.74" lengthAdjust="spacingAndGlyphs">r</tspan><tspan x="221.90" textLength="5.55" lengthAdjust="spacingAndGlyphs">a</tspan><tspan x="228.75" textLength="2.52" lengthAdjust="spacingAndGlyphs">l</tspan><tspan x="231.84" textLength="2.52" lengthAdjust="spacingAndGlyphs">i</tspan><tspan x="234.88" textLength="5.55" lengthAdjust="spacingAndGlyphs">a</tspan><tspan x="241.65" textLength="6.66" lengthAdjust="spacingAndGlyphs">n</tspan><tspan x="248.48"> </tspan><tspan x="252.21" textLength="7.20" lengthAdjust="spacingAndGlyphs">B</tspan><tspan x="259.79" textLength="6.66" lengthAdjust="spacingAndGlyphs">u</tspan><tspan x="266.73" textLength="4.74" lengthAdjust="spacingAndGlyphs">r</tspan><tspan x="271.09" textLength="6.67" lengthAdjust="spacingAndGlyphs">e</tspan><tspan x="278.06" textLength="5.55" lengthAdjust="spacingAndGlyphs">a</tspan><tspan x="284.79" textLength="6.66" lengthAdjust="spacingAndGlyphs">u</tspan><tspan x="291.66"> </tspan><tspan x="295.31" textLength="6.57" lengthAdjust="spacingAndGlyphs">o</tspan><tspan x="302.03" textLength="4.05" lengthAdjust="spacingAndGlyphs">f</tspan><tspan x="305.89"> </tspan><tspan x="309.60" textLength="9.22" lengthAdjust="spacingAndGlyphs">M</tspan><tspan x="319.11" textLength="6.67" lengthAdjust="spacingAndGlyphs">e</tspan><tspan x="325.91" textLength="4.12" lengthAdjust="spacingAndGlyphs">t</tspan><tspan x="330.29" textLength="6.67" lengthAdjust="spacingAndGlyphs">e</tspan><tspan x="337.14" textLength="6.57" lengthAdjust="spacingAndGlyphs">o</tspan><tspan x="343.88" textLength="4.74" lengthAdjust="spacingAndGlyphs">r</tspan><tspan x="348.25" textLength="6.57" lengthAdjust="spacingAndGlyphs">o</tspan><tspan x="355.21" textLength="2.52" lengthAdjust="spacingAndGlyphs">l</tspan><tspan x="358.13" textLength="6.57" lengthAdjust="spacingAndGlyphs">o</tspan><tspan x="364.92" textLength="6.71" lengthAdjust="spacingAndGlyphs">g</tspan><tspan x="372.16" textLength="5.96" lengthAdjust="spacingAndGlyphs">y</tspan></text>
<text id="f3" transform="translate(591.00 579.70)" y="0" font-size="11.34" fill="#111"><tspan x="-0.81" textLength="6.57" lengthAdjust="spacingAndGlyphs">P</tspan><tspan x="5.36" textLength="5.57" lengthAdjust="spacingAndGlyphs">a</tspan><tspan x="12.25" textLength="5.33" lengthAdjust="spacingAndGlyphs">s</tspan><tspan x="17.81" textLength="4.13" lengthAdjust="spacingAndGlyphs">t</tspan><tspan x="22.10"> </tspan><tspan x="25.89" textLength="5.57" lengthAdjust="spacingAndGlyphs">a</tspan><tspan x="32.68" textLength="6.67" lengthAdjust="spacingAndGlyphs">n</tspan><tspan x="39.76" textLength="5.57" lengthAdjust="spacingAndGlyphs">a</tspan><tspan x="46.62" textLength="2.53" lengthAdjust="spacingAndGlyphs">l</tspan><tspan x="49.73" textLength="5.98" lengthAdjust="spacingAndGlyphs">y</tspan><tspan x="56.33" textLength="5.33" lengthAdjust="spacingAndGlyphs">s</tspan><tspan x="62.11" textLength="2.53" lengthAdjust="spacingAndGlyphs">i</tspan><tspan x="65.22" textLength="5.33" lengthAdjust="spacingAndGlyphs">s</tspan><tspan x="70.71"> </tspan><tspan x="74.48" textLength="6.73" lengthAdjust="spacingAndGlyphs">b</tspan><tspan x="81.56" textLength="5.57" lengthAdjust="spacingAndGlyphs">a</tspan><tspan x="88.44" textLength="5.33" lengthAdjust="spacingAndGlyphs">s</tspan><tspan x="94.04" textLength="6.69" lengthAdjust="spacingAndGlyphs">e</tspan><tspan x="100.78"> </tspan><tspan x="104.55" textLength="6.73" lengthAdjust="spacingAndGlyphs">p</tspan><tspan x="111.49" textLength="6.69" lengthAdjust="spacingAndGlyphs">e</tspan><tspan x="118.30" textLength="4.75" lengthAdjust="spacingAndGlyphs">r</tspan><tspan x="123.10" textLength="2.53" lengthAdjust="spacingAndGlyphs">i</tspan><tspan x="126.02" textLength="6.58" lengthAdjust="spacingAndGlyphs">o</tspan><tspan x="132.82" textLength="6.73" lengthAdjust="spacingAndGlyphs">d</tspan><tspan x="139.98" textLength="3.35" lengthAdjust="spacingAndGlyphs">:</tspan><tspan x="143.53"> </tspan><tspan x="147.44" textLength="6.23" lengthAdjust="spacingAndGlyphs">1</tspan><tspan x="154.28" textLength="6.74" lengthAdjust="spacingAndGlyphs">9</tspan><tspan x="161.36" textLength="6.74" lengthAdjust="spacingAndGlyphs">9</tspan><tspan x="168.68" textLength="6.23" lengthAdjust="spacingAndGlyphs">1</tspan><tspan x="175.41" textLength="4.00" lengthAdjust="spacingAndGlyphs">-</tspan><tspan x="179.66" textLength="6.29" lengthAdjust="spacingAndGlyphs">2</tspan><tspan x="186.77" textLength="6.53" lengthAdjust="spacingAndGlyphs">0</tspan><tspan x="193.82" textLength="6.29" lengthAdjust="spacingAndGlyphs">2</tspan><tspan x="200.93" textLength="6.53" lengthAdjust="spacingAndGlyphs">0</tspan></text>
<text id="f4" transform="translate(614.80 592.00)" y="0" font-size="11.34" fill="#111"><tspan x="-0.78" textLength="5.84" lengthAdjust="spacingAndGlyphs">F</tspan><tspan x="5.04" textLength="6.59" lengthAdjust="spacingAndGlyphs">o</tspan><tspan x="11.81" textLength="4.76" lengthAdjust="spacingAndGlyphs">r</tspan><tspan x="16.19" textLength="6.70" lengthAdjust="spacingAndGlyphs">e</tspan><tspan x="23.08" textLength="5.59" lengthAdjust="spacingAndGlyphs">c</tspan><tspan x="29.32" textLength="5.58" lengthAdjust="spacingAndGlyphs">a</tspan><tspan x="36.21" textLength="5.34" lengthAdjust="spacingAndGlyphs">s</tspan><tspan x="41.79" textLength="4.14" lengthAdjust="spacingAndGlyphs">t</tspan><tspan x="46.09"> </tspan><tspan x="49.86" textLength="6.75" lengthAdjust="spacingAndGlyphs">b</tspan><tspan x="56.96" textLength="5.58" lengthAdjust="spacingAndGlyphs">a</tspan><tspan x="63.85" textLength="5.34" lengthAdjust="spacingAndGlyphs">s</tspan><tspan x="69.46" textLength="6.70" lengthAdjust="spacingAndGlyphs">e</tspan><tspan x="76.22"> </tspan><tspan x="79.99" textLength="6.75" lengthAdjust="spacingAndGlyphs">p</tspan><tspan x="86.94" textLength="6.70" lengthAdjust="spacingAndGlyphs">e</tspan><tspan x="93.76" textLength="4.76" lengthAdjust="spacingAndGlyphs">r</tspan><tspan x="98.57" textLength="2.53" lengthAdjust="spacingAndGlyphs">i</tspan><tspan x="101.50" textLength="6.59" lengthAdjust="spacingAndGlyphs">o</tspan><tspan x="108.31" textLength="6.74" lengthAdjust="spacingAndGlyphs">d</tspan><tspan x="115.49" textLength="3.35" lengthAdjust="spacingAndGlyphs">:</tspan><tspan x="119.04"> </tspan><tspan x="122.95" textLength="6.24" lengthAdjust="spacingAndGlyphs">1</tspan><tspan x="129.81" textLength="6.75" lengthAdjust="spacingAndGlyphs">9</tspan><tspan x="137.01" textLength="6.61" lengthAdjust="spacingAndGlyphs">8</tspan><tspan x="144.24" textLength="6.24" lengthAdjust="spacingAndGlyphs">1</tspan><tspan x="150.97" textLength="4.00" lengthAdjust="spacingAndGlyphs">-</tspan><tspan x="155.23" textLength="6.30" lengthAdjust="spacingAndGlyphs">2</tspan><tspan x="162.35" textLength="6.54" lengthAdjust="spacingAndGlyphs">0</tspan><tspan x="169.54" textLength="6.24" lengthAdjust="spacingAndGlyphs">1</tspan><tspan x="176.51" textLength="6.61" lengthAdjust="spacingAndGlyphs">8</tspan></text>
<text id="f5" transform="translate(864.90 579.70)" y="0" font-size="11.34" fill="#111"><tspan x="-0.91" textLength="9.27" lengthAdjust="spacingAndGlyphs">M</tspan><tspan x="8.65" textLength="6.60" lengthAdjust="spacingAndGlyphs">o</tspan><tspan x="15.47" textLength="6.75" lengthAdjust="spacingAndGlyphs">d</tspan><tspan x="22.56" textLength="6.71" lengthAdjust="spacingAndGlyphs">e</tspan><tspan x="29.61" textLength="2.54" lengthAdjust="spacingAndGlyphs">l</tspan><tspan x="32.63" textLength="3.36" lengthAdjust="spacingAndGlyphs">:</tspan><tspan x="36.19"> </tspan><tspan x="39.80" textLength="7.50" lengthAdjust="spacingAndGlyphs">A</tspan><tspan x="47.28" textLength="7.48" lengthAdjust="spacingAndGlyphs">C</tspan><tspan x="55.07" textLength="7.48" lengthAdjust="spacingAndGlyphs">C</tspan><tspan x="63.07" textLength="6.45" lengthAdjust="spacingAndGlyphs">E</tspan><tspan x="70.11" textLength="6.64" lengthAdjust="spacingAndGlyphs">S</tspan><tspan x="77.20" textLength="6.64" lengthAdjust="spacingAndGlyphs">S</tspan><tspan x="84.01" textLength="4.01" lengthAdjust="spacingAndGlyphs">-</tspan><tspan x="88.31" textLength="6.64" lengthAdjust="spacingAndGlyphs">S</tspan><tspan x="95.36" textLength="6.31" lengthAdjust="spacingAndGlyphs">2</tspan></text>
<text id="f6" transform="translate(840.80 592.00)" y="0" font-size="11.34" fill="#111"><tspan x="-0.91" textLength="9.25" lengthAdjust="spacingAndGlyphs">M</tspan><tspan x="8.64" textLength="6.59" lengthAdjust="spacingAndGlyphs">o</tspan><tspan x="15.44" textLength="6.73" lengthAdjust="spacingAndGlyphs">d</tspan><tspan x="22.51" textLength="6.69" lengthAdjust="spacingAndGlyphs">e</tspan><tspan x="29.54" textLength="2.53" lengthAdjust="spacingAndGlyphs">l</tspan><tspan x="32.36"> </tspan><tspan x="35.96" textLength="4.75" lengthAdjust="spacingAndGlyphs">r</tspan><tspan x="40.65" textLength="6.68" lengthAdjust="spacingAndGlyphs">u</tspan><tspan x="47.75" textLength="6.68" lengthAdjust="spacingAndGlyphs">n</tspan><tspan x="54.81" textLength="3.35" lengthAdjust="spacingAndGlyphs">:</tspan><tspan x="58.35"> </tspan><tspan x="62.03" textLength="6.75" lengthAdjust="spacingAndGlyphs">9</tspan><tspan x="68.98"> </tspan><tspan x="72.59" textLength="7.49" lengthAdjust="spacingAndGlyphs">A</tspan><tspan x="80.31" textLength="6.68" lengthAdjust="spacingAndGlyphs">u</tspan><tspan x="87.31" textLength="6.73" lengthAdjust="spacingAndGlyphs">g</tspan><tspan x="94.28"> </tspan><tspan x="98.07" textLength="6.30" lengthAdjust="spacingAndGlyphs">2</tspan><tspan x="105.18" textLength="6.53" lengthAdjust="spacingAndGlyphs">0</tspan><tspan x="112.24" textLength="6.30" lengthAdjust="spacingAndGlyphs">2</tspan><tspan x="119.50" textLength="6.16" lengthAdjust="spacingAndGlyphs">5</tspan></text>
</svg></body></html>
